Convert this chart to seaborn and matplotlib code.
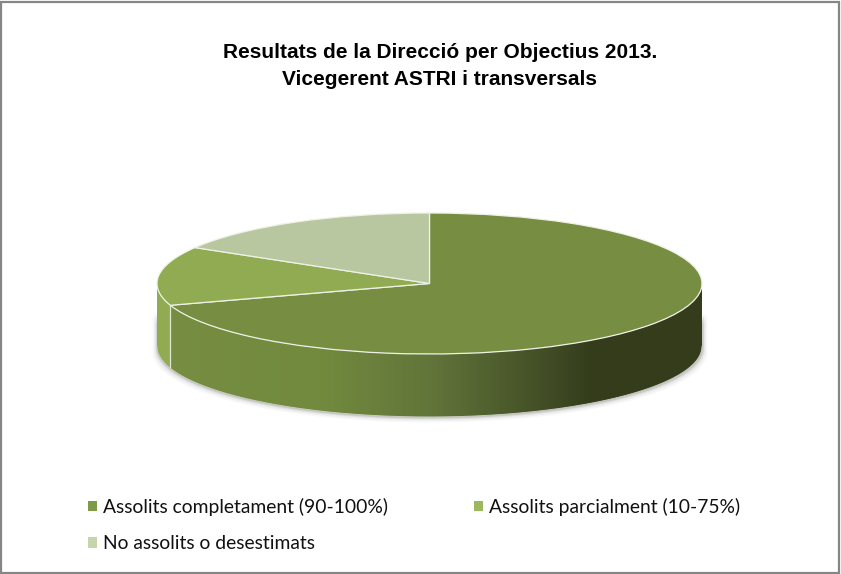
import numpy as np
import matplotlib
matplotlib.use("Agg")
import matplotlib.pyplot as plt
from matplotlib.colors import LinearSegmentedColormap
from matplotlib.patches import Rectangle, Patch, Polygon
import seaborn as sns

title = "Resultats de la Direcció per Objectius 2013.\nVicegerent ASTRI i transversals"
labels = ["Assolits completament (90-100%)", "Assolits parcialment (10-75%)", "No assolits o desestimats"]
values = [70, 13.5, 16.5]
top_colors = ["#778e42", "#90ab52", "#b9c7a0"]
legend_colors = ["#7f9a48", "#9bb95c", "#c6d6aa"]

W, H = 841, 574
CX, CY, RX, RY, DEPTH = 429.5, 283.5, 272.5, 70.5, 63

sns.set_theme(style="white")
fig = plt.figure(figsize=(W / 100, H / 100), dpi=100, facecolor="white")
ax = fig.add_axes([0, 0, 1, 1])
palette = sns.color_palette(top_colors)

wedges, _ = ax.pie(values, colors=palette, startangle=90, counterclock=False, radius=1,
                   wedgeprops=dict(edgecolor="#eef1e6", linewidth=0.9, zorder=5))
ax.set_aspect("auto")
xlim = ((0 - CX) / RX, (W - CX) / RX)
ylim = ((CY - H) / RY, CY / RY)
d = DEPTH / RY

# soft shadow below the wall
t = np.radians(np.linspace(180, 360, 400))
for grow, alpha in [(5, .04), (3.5, .06), (2, .1), (1, .16)]:
    ax.fill_between((RX + grow) / RX * np.cos(t), np.sin(t) - d - grow / RY, np.sin(t) - d + 0.5,
                    color="#555555", alpha=alpha, lw=0, zorder=1)

# side wall, slice by slice, from the same values
shade = LinearSegmentedColormap.from_list("wall", [
    (0.00, "#778e42"), (0.30, "#728a3e"), (0.50, "#62753a"), (0.62, "#505f2e"),
    (0.72, "#414c25"), (0.80, "#343c1b"), (1.00, "#343c1b")])
ends = 90 - 360 * np.cumsum(values) / np.sum(values)
starts = np.r_[90, ends[:-1]]
for i, (a0, a1) in enumerate(zip(starts, ends)):
    angs = np.arange(a1, a0, 0.25) % 360
    angs = np.sort(angs[(angs >= 180) & (angs <= 360)])
    if angs.size == 0:
        continue
    x = np.cos(np.radians(angs))
    y = np.sin(np.radians(angs))
    outline = np.column_stack([np.r_[x, x[::-1]], np.r_[y, y[::-1] - d]])
    if i == 0:
        poly = Polygon(outline, closed=True, facecolor="none", edgecolor="none", transform=ax.transData)
        ax.add_patch(poly)
        img = ax.imshow(np.linspace(0, 1, 512)[None, :], extent=(-1, 1, -1 - d, 0), cmap=shade,
                        vmin=0, vmax=1, aspect="auto", zorder=3, interpolation="bilinear")
        img.set_clip_path(poly)
        ax.plot([x[0], x[0]], [y[0], y[0] - d], color="#dfe5cf", lw=0.9, zorder=4)
    else:
        ax.add_patch(Polygon(outline, closed=True, facecolor=top_colors[i], edgecolor="none", zorder=3))
ax.plot(np.cos(t), np.sin(t) - d, color="#c9cdc0", lw=0.7, zorder=4)
ax.set_xlim(xlim)
ax.set_ylim(ylim)
ax.set_aspect("auto")

handles = [Patch(facecolor=legend_colors[i], edgecolor="none") for i in (0, 2, 1)]
names = [labels[i] for i in (0, 2, 1)]
ax.legend(handles, names, ncol=2, loc="upper left", bbox_to_anchor=(88 / W, 1 - 498 / H),
          frameon=False, prop=dict(family="Lato", size=13.9), handlelength=0.46, handleheight=0.46,
          handletextpad=0.31, columnspacing=4.47, labelspacing=1.0, borderpad=0, borderaxespad=0, labelcolor="#111111")

fig.text(440 / W, 1 - 43 / H, title, ha="center", va="top", family="Liberation Sans",
         weight="bold", size=15.0, color="black", linespacing=1.55)

fig.add_artist(Rectangle((1 / W, 1.5 / H), (W - 3) / W, (H - 3) / H, transform=fig.transFigure,
                         fill=False, edgecolor="#868686", linewidth=1.6))
fig.savefig("out.png", dpi=100, facecolor="white")
